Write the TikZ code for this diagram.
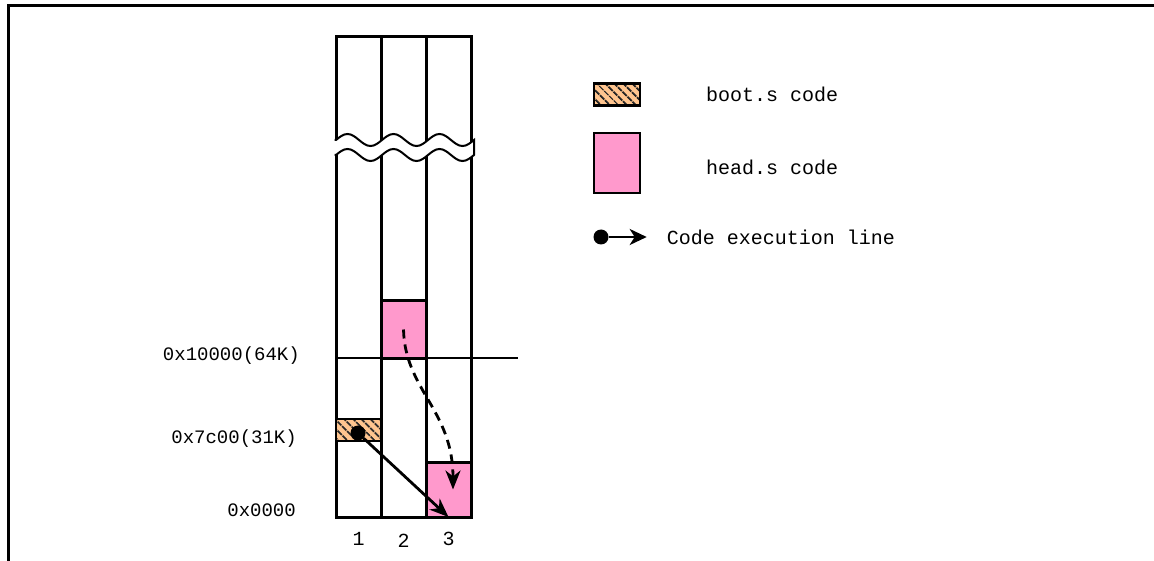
\documentclass[tikz,border=0pt]{standalone}
\usepackage{fontspec}
\setmainfont{Liberation Mono}
\usepackage{xcolor}
\usepackage{tikz}
\usetikzlibrary{arrows.meta, positioning, patterns.meta}
\definecolor{HeadPink}{RGB}{255,153,204}
\definecolor{BootTan}{RGB}{255,197,143}

\begin{document}
\begin{tikzpicture}[x=1pt, y=-1pt,
    column/.style={rectangle, draw, line width=3pt, minimum width=45pt, minimum height=480pt, inner sep=0pt, outer sep=0pt},
    headbox/.style={rectangle, draw, line width=3pt, fill=HeadPink, minimum width=45pt, inner sep=0pt, outer sep=0pt},
    bootbox/.style={rectangle, draw, line width=2.2pt, preaction={fill=BootTan}, preaction={pattern={Lines[angle=-45, distance=6.5pt, line width=2pt]}, pattern color=black!85}, minimum width=45pt, minimum height=22pt, inner sep=0pt, outer sep=0pt},
    dot/.style={circle, fill=black, minimum size=15pt, inner sep=0pt},
    addr/.style={font=\fontsize{19}{23}\selectfont, inner sep=0pt, anchor=east},
    keylabel/.style={font=\fontsize{20}{24}\selectfont, inner sep=0pt},
    colnum/.style={font=\fontsize{20}{24}\selectfont},
    flow/.style={-{Stealth[length=19pt, width=15pt, inset=6pt]}, line width=2.8pt},
    wave/.style={draw, fill=white, line width=2pt}
]
\useasboundingbox (0,0) rectangle (1154,561);
\draw[line width=3pt] (8,561) -- (8,6) -- (1154,6);

\node[column] (col1) at (358.5,277) {};
\node[column, right=0pt of col1] (col2) {};
\node[column, right=0pt of col2] (col3) {};

\coordinate (mark64) at (518,358);
\draw[line width=1.6pt] (col1.west |- mark64) -- (mark64);

\node[headbox, minimum height=57pt] (headhigh) at (403.5,329.5) {};
\node[headbox, minimum height=55pt] (headlow) at (448.5,489.5) {};
\node[bootbox] (boot) at (358.5,430) {};

\path[wave] (334.5,140) -- (336,140)
  \foreach \c in {1,2,3} {sin ++(11.5,-6) cos ++(11.5,6) sin ++(11.5,6) cos ++(11.5,-6)}
  -- ++(0,15)
  \foreach \c in {1,2,3} {sin ++(-11.5,6) cos ++(-11.5,-6) sin ++(-11.5,-6) cos ++(-11.5,6)}
  -- ++(-1.5,0);

\node[addr] (addr64) at (300,356) {0x10000(64K)};
\node[addr] (addr31) at (297,439) {0x7c00(31K)};
\node[addr] (addr0) at (296,510) {0x0000};

\node[colnum, below=12pt of col1] (num1) {1};
\node[colnum, below=14pt of col2] (num2) {2};
\node[colnum, below=12pt of col3] (num3) {3};

\node[dot] (start) at (358,433) {};
\draw[flow] (start) -- (headlow.south);
\draw[flow, dash pattern=on 9pt off 6pt] (headhigh.center) .. controls (405,390) and (453,410) .. ([xshift=4.5pt]headlow.center);

\node[bootbox, minimum width=46pt] (bootkey) at (617,94.5) {};
\node[keylabel, right=66pt of bootkey] (bootlabel) {boot.s code};
\node[headbox, line width=1.8pt, minimum width=46pt, minimum height=60pt] (headkey) at (617,163) {};
\node[keylabel, right=66pt of headkey, yshift=-4pt] (headlabel) {head.s code};
\node[dot] (legdot) at (601,237) {};
\coordinate[right=38pt of legdot] (legtip);
\draw[flow, line width=2.6pt, -{Stealth[length=17pt, width=16pt, inset=5pt]}] (legdot) -- (legtip);
\node[keylabel, right=20pt of legtip] (execlabel) {Code execution line};
\end{tikzpicture}
\end{document}
